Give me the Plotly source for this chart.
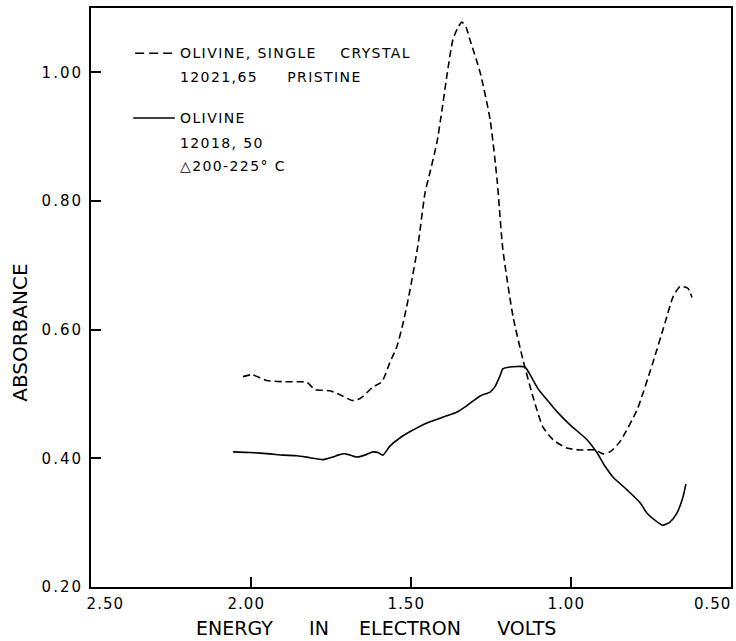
import plotly.graph_objects as go

# Olivine single crystal 12021,65 pristine (dashed)
pristine_energy = [2.025, 1.997, 1.950, 1.894, 1.847, 1.825, 1.800, 1.753, 1.722, 1.684,
                   1.659, 1.638, 1.619, 1.591, 1.566, 1.544, 1.522, 1.503, 1.478, 1.456,
                   1.441, 1.419, 1.403, 1.388, 1.369, 1.353, 1.341, 1.328, 1.316, 1.284,
                   1.253, 1.231, 1.213, 1.181, 1.150, 1.119, 1.088, 1.056, 1.013, 0.972,
                   0.925, 0.900, 0.878, 0.847, 0.794, 0.744, 0.706, 0.681, 0.659, 0.634,
                   0.622]
pristine_abs = [0.527, 0.530, 0.521, 0.519, 0.519, 0.518, 0.507, 0.505, 0.499, 0.490,
                0.493, 0.502, 0.511, 0.519, 0.549, 0.574, 0.616, 0.662, 0.732, 0.813,
                0.844, 0.891, 0.942, 0.994, 1.051, 1.070, 1.078, 1.070, 1.051, 1.000,
                0.927, 0.833, 0.725, 0.620, 0.553, 0.496, 0.449, 0.429, 0.416, 0.413,
                0.413, 0.407, 0.410, 0.426, 0.475, 0.549, 0.611, 0.651, 0.667, 0.664,
                0.650]

# Olivine 12018,50 heated 200-225 C (solid)
heated_energy = [2.056, 2.003, 1.941, 1.900, 1.856, 1.816, 1.775, 1.744, 1.728, 1.706,
                 1.684, 1.669, 1.644, 1.619, 1.603, 1.588, 1.566, 1.534, 1.494, 1.450,
                 1.388, 1.356, 1.325, 1.284, 1.253, 1.238, 1.222, 1.213, 1.191, 1.144,
                 1.128, 1.103, 1.075, 1.041, 1.003, 0.950, 0.919, 0.894, 0.869, 0.825,
                 0.784, 0.763, 0.738, 0.713, 0.691, 0.669, 0.650, 0.641]
heated_abs = [0.410, 0.409, 0.407, 0.405, 0.404, 0.401, 0.398, 0.402, 0.405, 0.407,
              0.404, 0.402, 0.405, 0.410, 0.409, 0.405, 0.419, 0.432, 0.444, 0.455,
              0.466, 0.472, 0.482, 0.497, 0.503, 0.511, 0.528, 0.539, 0.542, 0.542,
              0.530, 0.508, 0.491, 0.471, 0.452, 0.429, 0.409, 0.388, 0.371, 0.351,
              0.331, 0.315, 0.304, 0.296, 0.301, 0.315, 0.340, 0.360]

x_ticks = [2.50, 2.00, 1.50, 1.00, 0.50]
x_tick_labels = ["2.50", "2.00", "1.50", "1.00", "0.50"]
y_ticks = [0.20, 0.40, 0.60, 0.80, 1.00]
y_tick_labels = ["0.20", "0.40", "0.60", "0.80", "1.00"]

FONT = "DejaVu Sans"
SP = "&#160;"


def spaced(txt, px=1.5):
    return '<span style="letter-spacing:%spx">%s</span>' % (px, txt)


fig = go.Figure()
fig.add_trace(go.Scatter(x=pristine_energy, y=pristine_abs, mode="lines",
                         line=dict(color="black", width=1.6, dash="7px,4px", shape="spline", smoothing=0.6),
                         name="OLIVINE, SINGLE CRYSTAL 12021,65 PRISTINE", showlegend=False))
fig.add_trace(go.Scatter(x=heated_energy, y=heated_abs, mode="lines",
                         line=dict(color="black", width=1.6, shape="spline", smoothing=0.6),
                         name="OLIVINE 12018,50 Δ200-225° C", showlegend=False))

# legend-like labels
legend_rows = [
    ("OLIVINE, SINGLE" + SP * 4 + "CRYSTAL", 0.922),
    ("12021,65" + SP * 5 + "PRISTINE", 0.881),
    ("OLIVINE", 0.810),
    ("12018, 50", 0.767),
    ("△200-225° C", 0.727),
]
for txt, yp in legend_rows:
    fig.add_annotation(x=0.136, y=yp, xref="paper", yref="paper", text=spaced(txt, 1.4),
                       showarrow=False, xanchor="left", yanchor="middle",
                       font=dict(family=FONT, size=14, color="black"))
fig.add_shape(type="line", xref="paper", yref="paper", x0=0.069, x1=0.131, y0=0.922, y1=0.922,
              line=dict(color="black", width=1.5, dash="9px,5px"))
fig.add_shape(type="line", xref="paper", yref="paper", x0=0.066, x1=0.131, y0=0.810, y1=0.810,
              line=dict(color="black", width=1.5))

# axis titles placed as in the original
fig.add_annotation(x=0.446, y=-0.071, xref="paper", yref="paper",
                   text="ENERGY" + SP * 6 + "IN" + SP * 5 + "ELECTRON" + SP * 6 + "VOLTS",
                   showarrow=False, xanchor="center", yanchor="middle",
                   font=dict(family=FONT, size=19, color="black"))
fig.add_annotation(x=-0.111, y=0.439, xref="paper", yref="paper", text="ABSORBANCE",
                   textangle=-90, showarrow=False, xanchor="center", yanchor="middle",
                   font=dict(family=FONT, size=20, color="black"))

# last x tick label sits flush with the right edge, as in the original
fig.add_annotation(x=x_ticks[4], y=-0.0294, xref="x", yref="paper",
                   text=spaced(x_tick_labels[4], 1), showarrow=False,
                   xanchor="right", yanchor="middle", xshift=2,
                   font=dict(family=FONT, size=15, color="black"))

axis_common = dict(showline=True, linecolor="black", linewidth=2, mirror=True,
                   ticks="inside", ticklen=10, tickwidth=1.5, tickcolor="black",
                   showgrid=False, zeroline=False, automargin=False,
                   tickfont=dict(family=FONT, size=15, color="black"))

x_text = ([SP * 6 + spaced(x_tick_labels[0], 1)]
          + [spaced(t, 1) + SP * 2 for t in x_tick_labels[1:4]] + [""])
fig.update_xaxes(range=[2.5, 0.5], tickvals=x_ticks, ticktext=x_text,
                 ticklabelstandoff=2, **axis_common)
fig.update_yaxes(range=[0.2, 1.1], tickvals=y_ticks,
                 ticktext=[spaced(t, 2) for t in y_tick_labels],
                 ticklabelstandoff=3, **axis_common)

fig.update_layout(width=736, height=641, margin=dict(l=91, r=5, t=8, b=54),
                  plot_bgcolor="white", paper_bgcolor="white", showlegend=False)

fig.write_html("out.html")
